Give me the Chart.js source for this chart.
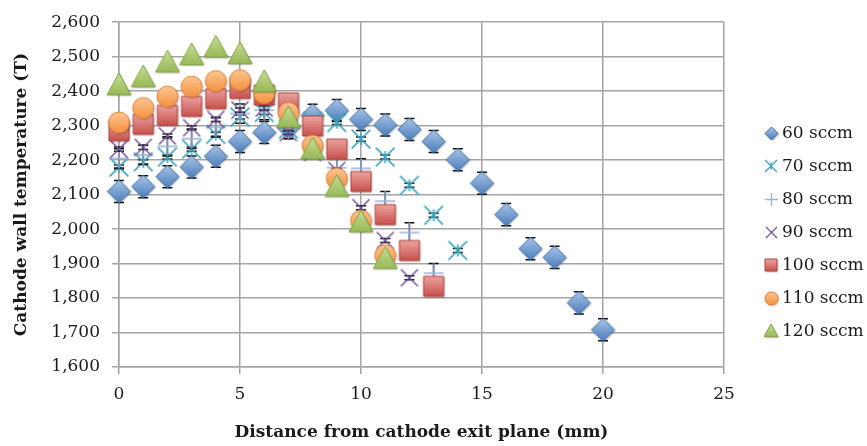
<!DOCTYPE html>
<html>
<head>
<meta charset="utf-8">
<script src="https://cdn.jsdelivr.net/npm/chart.js@4.4.1/dist/chart.umd.min.js"></script>
<style>
  html, body { margin: 0; padding: 0; background: #ffffff; overflow: hidden; }
  #wrap { width: 867px; height: 446px; }
</style>
</head>
<body>
<div id="wrap"><canvas id="c" width="867" height="446"></canvas></div>
<script>
// Distance from the cathode exit plane (mm) for each flow rate
const dist60  = [0,1,2,3,4,5,6,7,8,9,10,11,12,13,14,15,16,17,18,19,20];
const dist70  = [0,1,2,3,4,5,6,7,8,9,10,11,12,13,14];
const dist80  = [0,1,2,3,4,5,6,7,8,9,10,11,12,13];
const dist90  = [0,1,2,3,4,5,6,7,8,9,10,11,12];
const dist100 = [0,1,2,3,4,5,6,7,8,9,10,11,12,13];
const dist110 = [0,1,2,3,4,5,6,7,8,9,10,11];
const dist120 = [0,1,2,3,4,5,6,7,8,9,10,11];

// Cathode wall temperature (T)
const temp60  = [2109,2123,2152,2180,2211,2254,2280,2295,2330,2344,2318,2302,2289,2254,2201,2133,2042,1943,1918,1786,1708];
const temp70  = [2180,2195,2209,2232,2275,2325,2338,2290,2313,2309,2261,2209,2127,2040,1938];
const temp80  = [2205,2215,2240,2262,2295,2335,2345,2290,2290,2178,2176,2081,1990,1872];
const temp90  = [2232,2237,2270,2294,2318,2345,2351,2280,2222,2170,2062,1967,1859];
const temp100 = [2285,2304,2330,2356,2378,2408,2389,2366,2299,2232,2138,2042,1938,1834];
const temp110 = [2309,2351,2384,2413,2429,2432,2394,2337,2242,2147,2024,1924];
const temp120 = [2418,2441,2484,2505,2527,2508,2427,2323,2232,2123,2020,1914];

// Measurement uncertainty (±T)
const err60 = [32,32,32,32,32,32,32,32,32,32,32,32,32,32,32,32,32,32,32,32,32];
const err70 = [6,6,6,6,6,6,6,6,6,6,6,6,6,6,6];
const err80 = [28,28,28,28,28,28,28,28,28,28,28,28,28,28];
const err90 = [6,6,6,6,6,6,6,6,6,6,6,6,6];

const seriesLabels = ['60 sccm','70 sccm','80 sccm','90 sccm','100 sccm','110 sccm','120 sccm'];
const yTicks = [1600,1700,1800,1900,2000,2100,2200,2300,2400,2500,2600];
const xTicks = [0,5,10,15,20,25];

const SERIF = '"DejaVu Serif", "Liberation Serif", serif';

// Marker artwork: shaded filled shapes and stroked glyphs
function makeMarker(kind, s, fill, light, edge) {
  const pad = 3;
  const w = Math.ceil(s + pad * 2);
  const c = document.createElement('canvas');
  c.width = w; c.height = w;
  const g = c.getContext('2d');
  const m = w / 2, h = s / 2;
  const filled = ['diamond','square','circle','triangle'].includes(kind);
  if (filled) {
    g.beginPath();
    if (kind === 'diamond') {
      g.moveTo(m, m - h); g.lineTo(m + h, m); g.lineTo(m, m + h); g.lineTo(m - h, m); g.closePath();
    } else if (kind === 'square') {
      g.rect(m - h, m - h, s, s);
    } else if (kind === 'circle') {
      g.arc(m, m, h, 0, Math.PI * 2);
    } else {
      g.moveTo(m, m - h); g.lineTo(m + h, m + h * 0.82); g.lineTo(m - h, m + h * 0.82); g.closePath();
    }
    const grad = g.createLinearGradient(0, m - h, 0, m + h);
    grad.addColorStop(0, light);
    grad.addColorStop(1, fill);
    g.save();
    g.shadowColor = 'rgba(0,0,0,0.3)';
    g.shadowBlur = 2; g.shadowOffsetX = 1; g.shadowOffsetY = 1;
    g.fillStyle = grad;
    g.fill();
    g.restore();
    g.lineWidth = 1;
    g.strokeStyle = edge;
    g.stroke();
  } else {
    g.strokeStyle = fill;
    g.lineWidth = s > 14 ? 1.6 : 1.3;
    g.lineCap = 'butt';
    g.beginPath();
    const a = h * 0.85;
    if (kind === 'star' || kind === 'cross') {
      g.moveTo(m - a, m - a); g.lineTo(m + a, m + a);
      g.moveTo(m - a, m + a); g.lineTo(m + a, m - a);
    }
    if (kind === 'star') {
      g.moveTo(m, m - h * 0.55); g.lineTo(m, m + h * 0.55);
    }
    if (kind === 'plus') {
      g.moveTo(m - h, m); g.lineTo(m + h, m);
      g.moveTo(m, m - h); g.lineTo(m, m + h);
    }
    g.stroke();
  }
  return c;
}

const styles = [
  { kind: 'diamond',  fill: '#4A7EBB', light: '#A9C4E8', edge: '#3C6AA2', size: 23, small: 13 },
  { kind: 'star',     fill: '#3FA6BF', light: '#3FA6BF', edge: '#3FA6BF', size: 22, small: 14 },
  { kind: 'plus',     fill: '#9DB0DA', light: '#9DB0DA', edge: '#9DB0DA', size: 20, small: 13 },
  { kind: 'cross',    fill: '#76599E', light: '#76599E', edge: '#76599E', size: 20, small: 13 },
  { kind: 'square',   fill: '#C8504C', light: '#EBA4A1', edge: '#B2433F', size: 20, small: 12 },
  { kind: 'circle',   fill: '#F4913F', light: '#FBC792', edge: '#E2813A', size: 21, small: 13 },
  { kind: 'triangle', fill: '#92B54E', light: '#C9DE98', edge: '#84A643', size: 24, small: 14 }
];

const xsList = [dist60, dist70, dist80, dist90, dist100, dist110, dist120];
const tsList = [temp60, temp70, temp80, temp90, temp100, temp110, temp120];
const errList = [err60, err70, err80, err90, null, null, null];

const datasets = seriesLabels.map((label, k) => {
  const st = styles[k];
  return {
    label,
    data: xsList[k].map((x, i) => ({ x, y: tsList[k][i] })),
    errors: errList[k],
    pointStyle: makeMarker(st.kind, st.size, st.fill, st.light, st.edge),
    legendMarker: makeMarker(st.kind, st.small, st.fill, st.light, st.edge),
    pointRadius: 10,
    pointHoverRadius: 10,
    showLine: false,
    clip: false,
    order: 20 - k
  };
});

// Vertical error bars, drawn beneath each series' own markers
const errorBars = {
  id: 'errorBars',
  beforeDatasetDraw(chart, args) {
    const ds = chart.data.datasets[args.index];
    if (!ds.errors) return;
    const ctx = chart.ctx, ys = chart.scales.y;
    ctx.save();
    ctx.strokeStyle = '#111';
    ctx.lineWidth = 1.5;
    args.meta.data.forEach((pt, i) => {
      const v = ds.data[i].y, e = ds.errors[i];
      const yt = ys.getPixelForValue(v + e), yb = ys.getPixelForValue(v - e);
      const x = pt.x;
      ctx.beginPath();
      ctx.moveTo(x, yt); ctx.lineTo(x, yb);
      ctx.moveTo(x - 5, yt); ctx.lineTo(x + 5, yt);
      ctx.moveTo(x - 5, yb); ctx.lineTo(x + 5, yb);
      ctx.stroke();
    });
    ctx.restore();
  }
};

// Series key at the right of the plot
const sideLegend = {
  id: 'sideLegend',
  afterDraw(chart) {
    const ctx = chart.ctx;
    const x0 = chart.chartArea.right + 47;
    const y0 = 133, dy = 33;
    ctx.save();
    ctx.font = '17px ' + SERIF;
    ctx.fillStyle = '#1a1a1a';
    ctx.textBaseline = 'middle';
    ctx.textAlign = 'left';
    chart.data.datasets.forEach((ds, k) => {
      const y = y0 + k * dy;
      const img = ds.legendMarker;
      ctx.drawImage(img, Math.round(x0 - img.width / 2), Math.round(y - img.height / 2));
      ctx.fillText(ds.label, x0 + 11, y + 1);
    });
    ctx.restore();
  }
};

const gridColor = '#a4a4a4';

new Chart(document.getElementById('c'), {
  type: 'scatter',
  data: { datasets },
  options: {
    responsive: false,
    animation: false,
    devicePixelRatio: 1,
    layout: { padding: { left: 0, right: 143, top: 16, bottom: 0 } },
    plugins: {
      legend: { display: false },
      tooltip: { enabled: false }
    },
    scales: {
      x: {
        type: 'linear',
        min: xTicks[0],
        max: xTicks[xTicks.length - 1],
        afterBuildTicks(scale) { scale.ticks = xTicks.map(v => ({ value: v })); },
        afterFit(scale) { scale.height = 79; },
        grid: { color: gridColor, lineWidth: 1.5, tickLength: 7, drawTicks: true },
        border: { color: gridColor, width: 1.5 },
        ticks: { font: { family: SERIF, size: 17 }, color: '#1a1a1a', padding: 10, maxRotation: 0 },
        title: {
          display: true,
          text: 'Distance from cathode exit plane (mm)',
          font: { family: SERIF, size: 17, weight: 'bold' },
          color: '#1a1a1a',
          padding: { top: 0, bottom: 3 }
        }
      },
      y: {
        type: 'linear',
        min: yTicks[0],
        max: yTicks[yTicks.length - 1],
        afterBuildTicks(scale) { scale.ticks = yTicks.map(v => ({ value: v })); },
        afterFit(scale) { scale.width = 119; },
        grid: { color: gridColor, lineWidth: 1.5, tickLength: 7, drawTicks: true },
        border: { color: gridColor, width: 1.5 },
        ticks: {
          font: { family: SERIF, size: 17 },
          color: '#1a1a1a',
          padding: 12,
          callback: v => v.toLocaleString('en-US')
        },
        title: {
          display: true,
          text: 'Cathode wall temperature (T)',
          font: { family: SERIF, size: 17, weight: 'bold' },
          color: '#1a1a1a',
          padding: { top: 11, bottom: 0 }
        }
      }
    }
  },
  plugins: [errorBars, sideLegend]
});
</script>
</body>
</html>
